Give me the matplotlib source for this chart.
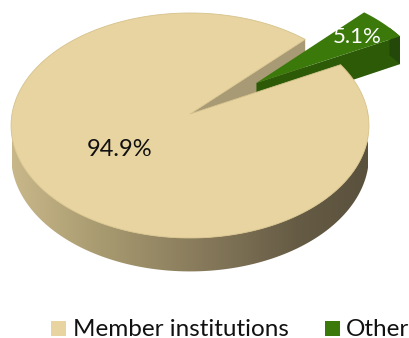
import numpy as np
import matplotlib
matplotlib.use("Agg")
import matplotlib.pyplot as plt
from matplotlib.patches import Polygon, Rectangle
from matplotlib.colors import LinearSegmentedColormap

# Data
categories = ["Member institutions", "Other"]
shares = [94.9, 5.1]
labels = ["94.9%", "5.1%"]
top_colors = ["#E8D4A0", "#3B7A0A"]
side_colors = ["#8A7D5C", "#2C5A07"]
label_colors = ["#111111", "#FFFFFF"]

W, H = 409, 338
fig = plt.figure(figsize=(W / 100, H / 100), dpi=100)
ax = fig.add_axes([0, 0, 1, 1])
ax.set_xlim(0, W)
ax.set_ylim(H, 0)
ax.axis("off")

# Perspective disc: far rim, centre and near rim in screen rows
CX, RX = 190.0, 178.0
Y_FAR, Y_MID, Y_NEAR = 13.0, 114.0, 238.0
C = (Y_FAR + Y_NEAR - 2 * Y_MID) / (Y_FAR - Y_NEAR)
A = Y_NEAR + Y_NEAR * C - Y_MID
DEPTH = 30.0
EXPLODE = 0.48
SPLIT_ANGLE = 46.0  # boundary between the two slices (degrees, ccw from right)


def project(X, Y, z=0.0):
    X = np.asarray(X, float)
    Y = np.asarray(Y, float)
    v = -Y
    s = 1.0 / (1.0 + C * v)
    return CX + RX * X * s, (A * v + Y_MID) * s + z * s


def rim(theta_deg, off=(0.0, 0.0), z=0.0):
    t = np.radians(theta_deg)
    return np.column_stack(project(np.cos(t) + off[0], np.sin(t) + off[1], z))


def centre(off=(0.0, 0.0), z=0.0):
    return np.array(project(off[0], off[1], z)).reshape(1, 2)


span = [360.0 * s / sum(shares) for s in shares]
other_start = SPLIT_ANGLE - span[1]
main_start, main_end = SPLIT_ANGLE, other_start + 360.0

# --- main slice: outer wall with horizontal shading
wall_t = np.linspace(180.0, 362.0, 200)
wall = np.vstack([rim(wall_t), rim(wall_t[::-1], z=DEPTH)])
wall_patch = Polygon(wall, closed=True, facecolor="none", edgecolor="none")
ax.add_patch(wall_patch)
wall_cmap = LinearSegmentedColormap.from_list(
    "wall", [(0.0, "#C8B789"), (0.25, "#A89A70"), (0.55, "#85785A"),
             (0.8, "#665C45"), (1.0, "#5A513D")])
grad = np.linspace(0, 1, 256).reshape(1, -1)
im = ax.imshow(grad, cmap=wall_cmap, aspect="auto",
               extent=(12, 368, 290, 100), interpolation="bilinear", zorder=1)
im.set_clip_path(wall_patch)

# --- main slice: cut face at the split angle
c0, c1 = centre(), centre(z=DEPTH)
r0, r1 = rim([main_start]), rim([main_start], z=DEPTH)
ax.add_patch(Polygon(np.vstack([c0, r0, r1, c1]), closed=True,
                     facecolor="#A89A74", edgecolor="none", zorder=2))

# --- exploded slice
mid = np.radians(other_start + span[1] / 2)
off = (EXPLODE * np.cos(mid), EXPLODE * np.sin(mid))
g0, g1 = centre(off), centre(off, DEPTH)
gr0, gr1 = rim([other_start], off), rim([other_start], off, DEPTH)
ax.add_patch(Polygon(np.vstack([g0, gr0, gr1, g1]), closed=True,
                     facecolor=side_colors[1], edgecolor="none", zorder=3))
other_t = np.linspace(other_start, SPLIT_ANGLE, 40)
# short strip of outer wall visible at the far right corner
ow_t = np.linspace(other_start, other_start + 6, 10)
ax.add_patch(Polygon(np.vstack([rim(ow_t, off), rim(ow_t[::-1], off, DEPTH)]),
                     closed=True, facecolor="#24480A", edgecolor="none",
                     zorder=3))
ax.add_patch(Polygon(np.vstack([g0, rim(other_t, off)]), closed=True,
                     facecolor=top_colors[1], edgecolor="none", zorder=4))

# --- main slice: top face
main_t = np.linspace(main_start, main_end, 400)
ax.add_patch(Polygon(np.vstack([c0, rim(main_t)]), closed=True,
                     facecolor=top_colors[0], edgecolor="#D6C28C",
                     linewidth=0.6, zorder=5))

# --- value labels
ax.text(120, 150, labels[0], color=label_colors[0], fontsize=17,
        family="Lato", ha="center", va="center", zorder=6)
ax.text(357, 37, labels[1], color=label_colors[1], fontsize=16,
        family="Lato", ha="center", va="center", zorder=6)

# --- legend
ax.add_patch(Rectangle((51, 321), 15, 15, facecolor=top_colors[0],
                       edgecolor="none"))
ax.text(73, 329, categories[0], fontsize=17.5, family="Lato",
        ha="left", va="center", color="#111111")
ax.add_patch(Rectangle((325, 321), 15, 15, facecolor=top_colors[1],
                       edgecolor="none"))
ax.text(346, 329, categories[1], fontsize=17.5, family="Lato",
        ha="left", va="center", color="#111111")

fig.savefig("out.png", dpi=100)
